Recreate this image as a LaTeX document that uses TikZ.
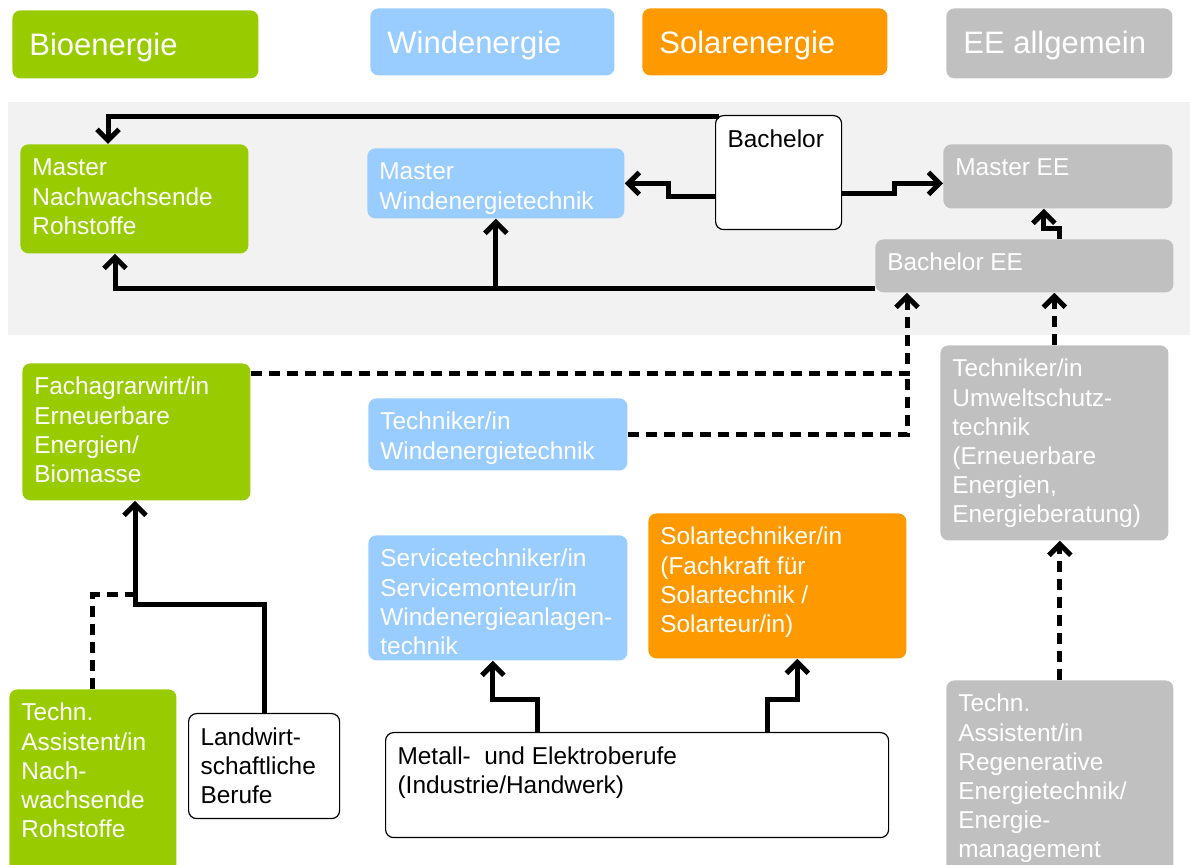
\documentclass[tikz,border=0pt]{standalone}
\usepackage{fontspec}
\setmainfont{Liberation Sans}
\usetikzlibrary{arrows.meta}

\definecolor{bioGreen}{HTML}{99CC00}
\definecolor{windBlue}{HTML}{99CCFF}
\definecolor{solarOrange}{HTML}{FF9900}
\definecolor{eeGrey}{HTML}{C0C0C0}
\definecolor{panelGrey}{HTML}{F2F2F2}

\setlength{\unitlength}{0.5pt}
\newcommand{\boxtext}[3]{\parbox[c][#2\unitlength][t]{#1\unitlength}{\raggedright\leftskip=6pt\relax\vspace*{5.5pt}\strut#3}}
\newcommand{\legendtext}[3]{\parbox[c][#2\unitlength][t]{#1\unitlength}{\vspace*{10pt}\hspace*{8.5pt}\strut#3}}

\tikzset{
  link/.style={line width=2.5pt},
  conn/.style={link, -{Straight Barb[length=5.5pt,width=11pt]}},
  maybe/.style={dash pattern=on 5.5pt off 3.5pt},
  box/.style={anchor=north west, inner sep=0pt, rounded corners=4pt, text=white,
    font=\fontsize{12.2}{14.6}\selectfont},
  bio/.style={box, fill=bioGreen},
  wind/.style={box, fill=windBlue},
  solar/.style={box, fill=solarOrange},
  ee/.style={box, fill=eeGrey},
  plain/.style={box, draw=black, line width=0.6pt, fill=white, text=black},
  legend/.style={anchor=north west, inner sep=0pt, rounded corners=4pt, text=white,
    font=\fontsize{15.5}{18}\selectfont}
}

\begin{document}
\begin{tikzpicture}[x=0.5pt, y=-0.5pt]
\clip (0,0) rectangle (1190,865);

\node[legend, fill=bioGreen] (legBio) at (12,10) {\legendtext{246}{68}{Bioenergie}};
\node[legend, fill=windBlue] (legWind) at (370,8) {\legendtext{244}{67}{Windenergie}};
\node[legend, fill=solarOrange] (legSolar) at (642,8) {\legendtext{245}{67}{Solarenergie}};
\node[legend, fill=eeGrey] (legEE) at (946,8) {\legendtext{226}{70}{EE allgemein}};

\fill[panelGrey] (8,102) rectangle (1190,335);

\node[bio] (mnr) at (20,144) {\boxtext{228}{109}{Master\\Nachwachsende\\Rohstoffe}};
\node[wind] (mwt) at (367,148) {\boxtext{257}{70}{Master\\Windenergietechnik}};
\node[plain] (bach) at (715,115) {\boxtext{126}{114}{Bachelor}};
\node[ee] (mee) at (943,144) {\boxtext{229}{64}{Master EE}};
\node[ee] (bee) at (875,239) {\boxtext{298}{53}{Bachelor EE}};

\node[bio] (fach) at (22,363) {\boxtext{228}{137}{Fachagrarwirt/in\\Erneuerbare\\Energien/\\Biomasse}};
\node[wind] (twt) at (368,398) {\boxtext{259}{72}{Techniker/in\\Windenergietechnik}};
\node[ee] (tut) at (940,345) {\boxtext{228}{195}{Techniker/in\\Umweltschutz-\\technik\\(Erneuerbare\\Energien,\\Energieberatung)}};
\node[wind] (svc) at (368,535) {\boxtext{259}{125}{Servicetechniker/in\\Servicemonteur/in\\Windenergieanlagen-\\technik}};
\node[solar] (sol) at (648,513) {\boxtext{258}{145}{Solartechniker/in\\(Fachkraft für\\Solartechnik /\\Solarteur/in)}};
\node[bio] (tan) at (9,689) {\boxtext{167}{186}{Techn.\\Assistent/in\\Nach-\\wachsende\\Rohstoffe}};
\node[plain] (landw) at (188,713) {\boxtext{151}{105}{Landwirt-\\schaftliche\\Berufe}};
\node[plain] (metall) at (385,732) {\boxtext{503}{105}{Metall-\ \ und Elektroberufe\\(Industrie/Handwerk)}};
\node[ee] (tar) at (946,680) {\boxtext{227}{195}{Techn.\\Assistent/in\\Regenerative\\Energietechnik/\\Energie-\\management}};

\draw[conn] ([xshift=2pt,yshift=-1pt]bach.north west) -| ([xshift=44pt]mnr.north west);
\draw[conn] ([yshift=-12pt]bach.west) -- ++(-23.5pt,0) |- (mwt.east);
\draw[conn] ([yshift=-10.5pt]bach.east) -- ++(26pt,0) |- ([yshift=-3.5pt]mee.west);
\draw[conn] ([xshift=17.5pt]bee.north) -- ++(0,5pt) -| ([xshift=-7pt]mee.south);

\coordinate (busR) at ([yshift=2pt]bee.south west);
\draw[conn] (busR) -| ([xshift=47.5pt]mnr.south west);
\draw[conn] (mwt.south |- busR) -- (mwt.south);

\coordinate (eeIn) at ([xshift=16pt]bee.south west);
\draw[conn,maybe] ([yshift=-5.5pt]fach.north east) -| coordinate (dashJ) (eeIn);
\draw[link,maybe] (twt.east) -| (dashJ);
\draw[conn,maybe] (tut.north) -- (tut.north |- bee.south);
\draw[conn,maybe] (tar.north) -- (tar.north |- tut.south);

\draw[conn] (landw.north) -- ++(0,54pt) -| ([xshift=56.5pt]fach.south west);
\draw[link,maybe] (tan.north) |- ([xshift=56.5pt,yshift=-47pt]fach.south west);

\draw[conn] ([xshift=-50pt]metall.north) -- ++(0,16pt) -| ([xshift=-2.5pt]svc.south);
\draw[conn] ([xshift=65pt]metall.north) -- ++(0,16pt) -| ([xshift=10pt]sol.south);
\end{tikzpicture}
\end{document}
